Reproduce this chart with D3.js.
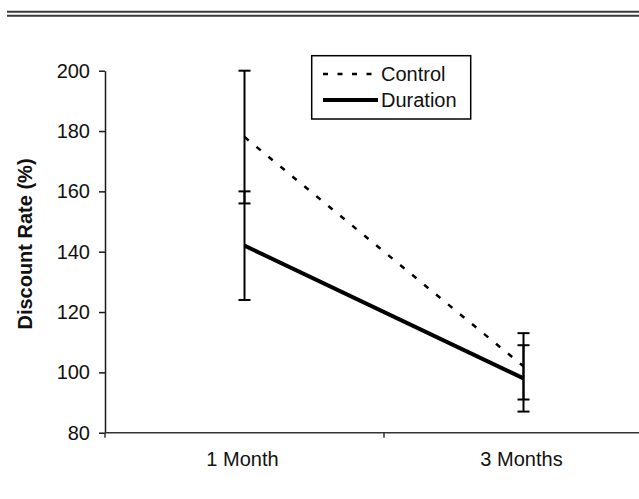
<!DOCTYPE html>
<html>

<head>
  <title>Discount Rate</title>
  <style>
    body { margin: 0; background: #fff; }
    text { font-family: "Liberation Sans", Arial, sans-serif; }
  </style>
</head>

<body>
  <svg id="main" width="639" height="499"></svg>

  <script src="https://cdn.jsdelivr.net/npm/d3@7.0.1/dist/d3.min.js"></script>
  <script>
    const categories = ['1 Month', '3 Months']
    const controlMean = [178, 102]
    const controlErr = [22, 11]
    const durationMean = [142, 98]
    const durationErr = [18, 11]
    const yTicks = [80, 100, 120, 140, 160, 180, 200]

    const series = [
      { name: 'Control', mean: controlMean, err: controlErr, width: 2.5, dash: '5.5,10' },
      { name: 'Duration', mean: durationMean, err: durationErr, width: 4, dash: null }
    ]

    const svg = d3.select('#main')
    const fontSize = 20

    // double rule at the top
    svg.append('line').attr('x1', 7).attr('x2', 639).attr('y1', 11.8).attr('y2', 11.8)
      .attr('stroke', '#3a3a3a').attr('stroke-width', 2)
    svg.append('line').attr('x1', 7).attr('x2', 639).attr('y1', 15.7).attr('y2', 15.7)
      .attr('stroke', '#3a3a3a').attr('stroke-width', 2)

    const xScale = d3.scaleBand().domain(categories).range([105, 663]).padding(0)
    const cx = c => xScale(c) + xScale.bandwidth() / 2
    const yScale = d3.scaleLinear().domain([80, 200]).range([432.7, 70.7])

    // y axis
    const yAxis = d3.axisLeft(yScale).tickValues(yTicks).tickSize(6).tickSizeOuter(0).tickPadding(9)
    const gy = svg.append('g').attr('transform', 'translate(105,0)').call(yAxis)
    gy.selectAll('path, line').attr('stroke', '#1a1a1a').attr('stroke-width', 1.5)
    gy.selectAll('text').attr('font-size', fontSize).attr('fill', '#111')
      .style('font-family', '"Liberation Sans", Arial, sans-serif')

    // x axis (category boundaries as ticks)
    const y0 = yScale(80)
    svg.append('line').attr('x1', 105).attr('x2', 639).attr('y1', y0).attr('y2', y0)
      .attr('stroke', '#333').attr('stroke-width', 1.5)
    const bounds = categories.map(c => xScale(c))
    svg.selectAll('.xtick').data(bounds).join('line')
      .attr('class', 'xtick')
      .attr('x1', d => d).attr('x2', d => d)
      .attr('y1', y0).attr('y2', y0 + 5)
      .attr('stroke', '#333').attr('stroke-width', 1.5)
    svg.selectAll('.xlabel').data(categories).join('text')
      .attr('class', 'xlabel')
      .attr('x', d => cx(d) - 2).attr('y', 466)
      .attr('text-anchor', 'middle').attr('font-size', fontSize).attr('fill', '#111')
      .text(d => d)

    // y label
    svg.append('text')
      .attr('transform', 'translate(32,244) rotate(-90)')
      .attr('text-anchor', 'middle').attr('font-size', fontSize).attr('font-weight', 'bold')
      .attr('fill', '#111')
      .text('Discount Rate (%)')

    // error bars
    series.forEach(s => {
      categories.forEach((c, i) => {
        const x = cx(c)
        const top = yScale(s.mean[i] + s.err[i])
        const bot = yScale(s.mean[i] - s.err[i])
        svg.append('line').attr('x1', x).attr('x2', x).attr('y1', top).attr('y2', bot)
          .attr('stroke', '#000').attr('stroke-width', 2)
        ;[top, bot].forEach(yy => {
          svg.append('line').attr('x1', x - 6).attr('x2', x + 6).attr('y1', yy).attr('y2', yy)
            .attr('stroke', '#000').attr('stroke-width', 2)
        })
      })
    })

    // lines
    const line = d3.line().x(d => cx(d.c)).y(d => yScale(d.v))
    series.forEach(s => {
      const pts = categories.map((c, i) => ({ c, v: s.mean[i] }))
      svg.append('path').datum(pts)
        .attr('d', line)
        .attr('fill', 'none').attr('stroke', '#000')
        .attr('stroke-width', s.width)
        .attr('stroke-dasharray', s.dash)
    })

    // legend
    const lg = svg.append('g')
    lg.append('rect').attr('x', 311.7).attr('y', 55.7).attr('width', 159).attr('height', 63.3)
      .attr('fill', '#fff').attr('stroke', '#000').attr('stroke-width', 1.5)
    series.forEach((s, i) => {
      const yy = 74 + i * 26
      lg.append('line').attr('x1', 323).attr('x2', 378).attr('y1', yy).attr('y2', yy)
        .attr('stroke', '#000').attr('stroke-width', s.width)
        .attr('stroke-dasharray', s.dash ? '5,9.5' : null)
      lg.append('text').attr('x', 381).attr('y', yy + 6.5)
        .attr('font-size', fontSize).attr('fill', '#111')
        .text(s.name)
    })
  </script>
</body>

</html>
